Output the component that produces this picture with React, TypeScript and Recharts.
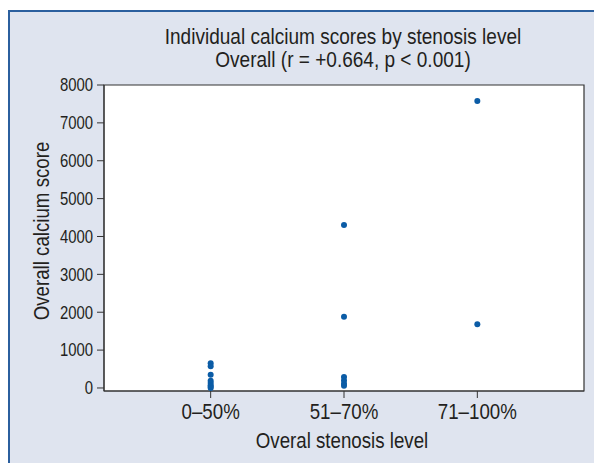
import React from "react";
import {
  ScatterChart,
  Scatter,
  XAxis,
  YAxis,
  CartesianGrid,
  ReferenceArea,
} from "recharts";

// categories along the x axis
const stenosisLevels = ["0–50%", "51–70%", "71–100%"];

// individual calcium scores
const scoresLow = [650, 575, 350, 190, 130, 70, 30, 0];
const scoresMid = [4300, 1880, 290, 200, 110, 60];
const scoresHigh = [7580, 1680];

const yTicks = [0, 1000, 2000, 3000, 4000, 5000, 6000, 7000, 8000];

const FONT = "'Liberation Sans', Arial, sans-serif";
const TEXT = "#231f20";
const DOT = "#0b5ca6";
const SQUEEZE = 0.85; // the original uses a condensed face

const points = [scoresLow, scoresMid, scoresHigh].flatMap((scores, i) =>
  scores.map((score) => ({ level: i + 1, score }))
);

const Dot = (props: { cx?: number; cy?: number }) => {
  if (props.cx == null || props.cy == null) return null;
  return <circle cx={props.cx} cy={props.cy} r={3} fill={DOT} />;
};

const XTick = (props: any) => {
  const { x, y, payload } = props;
  return (
    <g transform={`translate(${x},${y})`}>
      <text
        transform={`scale(${SQUEEZE},1)`}
        textAnchor="middle"
        dy={19}
        fontSize={22}
        fontFamily={FONT}
        fill={TEXT}
      >
        {stenosisLevels[payload.value - 1] ?? ""}
      </text>
    </g>
  );
};

const YTick = (props: any) => {
  const { x, y, payload } = props;
  return (
    <g transform={`translate(${x - 2},${y})`}>
      <text
        transform={`scale(${SQUEEZE},1)`}
        textAnchor="end"
        dy="0.36em"
        fontSize={17.5}
        fontFamily={FONT}
        fill={TEXT}
      >
        {payload.value}
      </text>
    </g>
  );
};

const squeezed = (extra = "") => `${extra} scaleX(${SQUEEZE})`;

export default function App() {
  return (
    <div
      style={{
        position: "absolute",
        left: 0,
        top: 0,
        width: 594,
        height: 463,
        background: "#fff",
        overflow: "hidden",
        fontFamily: FONT,
        color: TEXT,
      }}
    >
      <div
        style={{
          position: "absolute",
          left: 8,
          top: 10,
          width: 600,
          height: 470,
          background: "#dfe4ef",
          borderLeft: "2px solid #2b5f9e",
          borderTop: "2px solid #2b5f9e",
        }}
      />
      <div
        style={{
          position: "absolute",
          left: 0,
          width: 686,
          top: 25,
          textAlign: "center",
          fontSize: 22.4,
          lineHeight: "23px",
          transform: squeezed(),
        }}
      >
        Individual calcium scores by stenosis level
        <br />
        Overall (r = +0.664, p &lt; 0.001)
      </div>
      <div
        style={{
          position: "absolute",
          left: 42,
          top: 231,
          transform: squeezed("translate(-50%, -50%) rotate(-90deg)"),
          whiteSpace: "nowrap",
          fontSize: 22,
        }}
      >
        Overall calcium score
      </div>
      <div
        style={{
          position: "absolute",
          left: 342,
          top: 441,
          transform: squeezed("translate(-50%, -50%)"),
          whiteSpace: "nowrap",
          fontSize: 22,
        }}
      >
        Overal stenosis level
      </div>
      <div style={{ position: "absolute", left: 0, top: 0 }}>
        <ScatterChart
          width={594}
          height={463}
          margin={{ top: 85, right: 10, bottom: 0, left: 0 }}
        >
          <CartesianGrid fill="#ffffff" horizontal={false} vertical={false} />
          <XAxis
            type="number"
            dataKey="level"
            domain={[0.2, 3.8]}
            ticks={[1, 2, 3]}
            height={72}
            tickSize={7}
            tick={<XTick />}
            axisLine={{ stroke: "#333" }}
            tickLine={{ stroke: "#333" }}
            allowDataOverflow
          />
          <YAxis
            type="number"
            dataKey="score"
            domain={[-80, 8000]}
            ticks={yTicks}
            width={104}
            tickSize={7}
            tick={<YTick />}
            axisLine={{ stroke: "#333" }}
            tickLine={{ stroke: "#333" }}
            allowDataOverflow
          />
          <ReferenceArea
            x1={0.2}
            x2={3.8}
            y1={-80}
            y2={8000}
            fill="none"
            stroke="#333"
            strokeWidth={1.2}
            ifOverflow="visible"
          />
          <Scatter data={points} shape={<Dot />} isAnimationActive={false} />
        </ScatterChart>
      </div>
    </div>
  );
}
